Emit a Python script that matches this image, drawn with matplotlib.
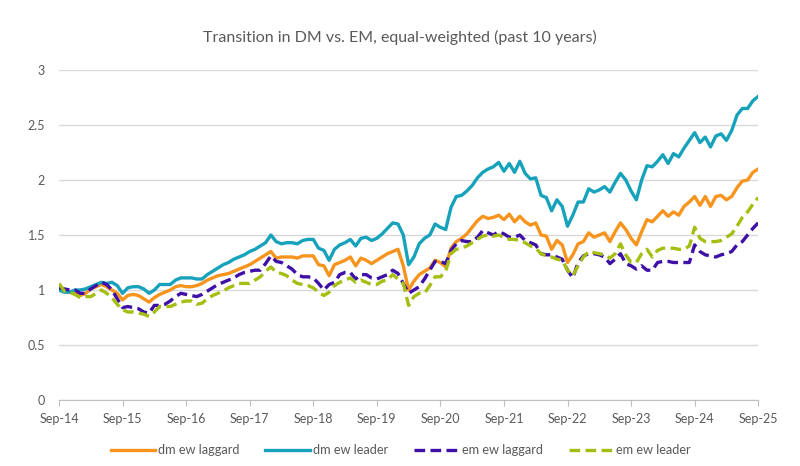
import matplotlib
matplotlib.use("Agg")
import matplotlib.pyplot as plt
from matplotlib.ticker import FormatStrFormatter

plt.rcParams["font.family"] = ["Lato", "DejaVu Sans"]

# Monthly index values, Sep-14 .. Sep-25 (133 months).
dm_ew_leader = [
    1.00, 0.98, 0.98, 1.00, 1.00, 1.01, 1.03, 1.05, 1.07, 1.06, 1.07, 1.04,
    0.97, 1.02, 1.03, 1.03, 1.01, 0.97, 1.00, 1.05, 1.05, 1.05, 1.09, 1.11,
    1.11, 1.11, 1.10, 1.10, 1.14, 1.17, 1.20, 1.23, 1.25, 1.28, 1.30, 1.32,
    1.35, 1.37, 1.40, 1.43, 1.50, 1.44, 1.42, 1.43, 1.43, 1.42, 1.45, 1.46,
    1.46, 1.38, 1.36, 1.27, 1.37, 1.41, 1.43, 1.46, 1.40, 1.47, 1.48, 1.45,
    1.47, 1.51, 1.56, 1.61, 1.60, 1.50, 1.23, 1.30, 1.42, 1.47, 1.50, 1.60,
    1.57, 1.55, 1.75, 1.85, 1.86, 1.90, 1.95, 2.02, 2.07, 2.10, 2.12, 2.16,
    2.08, 2.15, 2.07, 2.17, 2.06, 2.01, 2.02, 1.86, 1.84, 1.72, 1.82, 1.76,
    1.58, 1.68, 1.80, 1.80, 1.92, 1.89, 1.91, 1.94, 1.89, 1.98, 2.06, 2.00,
    1.90, 1.82, 2.00, 2.13, 2.12, 2.17, 2.23, 2.15, 2.24, 2.21, 2.29, 2.36,
    2.43, 2.34, 2.39, 2.30, 2.40, 2.42, 2.36, 2.45, 2.59, 2.65, 2.65, 2.72,
    2.76,
]
dm_ew_laggard = [
    1.00, 0.99, 0.98, 0.97, 0.95, 0.97, 1.01, 1.03, 1.05, 1.03, 1.00, 0.97,
    0.91, 0.95, 0.96, 0.95, 0.92, 0.89, 0.93, 0.96, 0.98, 1.00, 1.03, 1.04,
    1.03, 1.03, 1.04, 1.06, 1.09, 1.11, 1.13, 1.14, 1.15, 1.17, 1.19, 1.21,
    1.23, 1.26, 1.29, 1.32, 1.35, 1.29, 1.30, 1.30, 1.30, 1.29, 1.31, 1.31,
    1.31, 1.23, 1.22, 1.13, 1.23, 1.25, 1.27, 1.30, 1.22, 1.29, 1.27, 1.24,
    1.27, 1.30, 1.33, 1.35, 1.37, 1.22, 1.00, 1.08, 1.14, 1.17, 1.20, 1.27,
    1.25, 1.21, 1.38, 1.44, 1.47, 1.51, 1.57, 1.63, 1.67, 1.65, 1.66, 1.68,
    1.64, 1.69, 1.62, 1.67, 1.62, 1.59, 1.61, 1.50, 1.49, 1.37, 1.45, 1.41,
    1.25, 1.32, 1.42, 1.44, 1.52, 1.48, 1.50, 1.52, 1.44, 1.53, 1.61, 1.55,
    1.47, 1.41, 1.53, 1.64, 1.62, 1.67, 1.72, 1.67, 1.71, 1.68, 1.76, 1.80,
    1.85, 1.77, 1.85, 1.76, 1.85, 1.86, 1.82, 1.85, 1.93, 1.99, 2.00, 2.07,
    2.10,
]
em_ew_laggard = [
    1.02, 1.01, 1.00, 1.00, 0.97, 0.97, 1.01, 1.04, 1.07, 1.05, 1.00, 0.92,
    0.84, 0.85, 0.84, 0.83, 0.80, 0.79, 0.86, 0.86, 0.87, 0.90, 0.94, 0.97,
    0.96, 0.95, 0.94, 0.96, 0.99, 1.02, 1.05, 1.07, 1.09, 1.11, 1.14, 1.16,
    1.17, 1.18, 1.18, 1.24, 1.31, 1.26, 1.25, 1.22, 1.19, 1.14, 1.12, 1.12,
    1.11, 1.06, 1.00, 1.05, 1.07, 1.14, 1.16, 1.16, 1.10, 1.14, 1.14, 1.11,
    1.10, 1.12, 1.14, 1.18, 1.15, 1.06, 0.97, 1.00, 1.03, 1.10, 1.18, 1.26,
    1.26, 1.24, 1.36, 1.42, 1.45, 1.44, 1.44, 1.48, 1.54, 1.52, 1.50, 1.53,
    1.51, 1.48, 1.48, 1.50, 1.45, 1.43, 1.41, 1.33, 1.32, 1.32, 1.30, 1.28,
    1.18, 1.11, 1.25, 1.31, 1.33, 1.33, 1.32, 1.30, 1.24, 1.28, 1.33, 1.24,
    1.22, 1.19, 1.22, 1.18, 1.18, 1.25, 1.26, 1.26, 1.25, 1.25, 1.25, 1.25,
    1.41, 1.35, 1.32, 1.31, 1.30, 1.32, 1.33, 1.35, 1.41, 1.44, 1.50, 1.56,
    1.61,
]
em_ew_leader = [
    1.06, 0.99, 0.98, 0.96, 0.93, 0.94, 0.94, 0.97, 1.00, 0.97, 0.93, 0.87,
    0.82, 0.80, 0.80, 0.79, 0.78, 0.76, 0.80, 0.85, 0.85, 0.85, 0.87, 0.89,
    0.90, 0.90, 0.87, 0.88, 0.92, 0.95, 0.97, 0.99, 1.02, 1.04, 1.06, 1.06,
    1.06, 1.09, 1.12, 1.17, 1.21, 1.16, 1.15, 1.13, 1.09, 1.06, 1.05, 1.04,
    1.02, 0.98, 0.95, 0.98, 1.04, 1.07, 1.09, 1.11, 1.07, 1.09, 1.07, 1.05,
    1.05, 1.08, 1.09, 1.14, 1.10, 1.06, 0.86, 0.94, 0.97, 0.97, 1.04, 1.12,
    1.12, 1.17, 1.33, 1.37, 1.38, 1.40, 1.43, 1.46, 1.49, 1.50, 1.49, 1.50,
    1.48, 1.46, 1.46, 1.45, 1.43, 1.40, 1.38, 1.33, 1.31, 1.30, 1.28, 1.27,
    1.18, 1.13, 1.22, 1.30, 1.35, 1.34, 1.33, 1.32, 1.29, 1.33, 1.42, 1.32,
    1.25, 1.25, 1.33, 1.37, 1.30, 1.36, 1.38, 1.38, 1.38, 1.37, 1.37, 1.40,
    1.57, 1.47, 1.44, 1.44, 1.44, 1.45, 1.48, 1.51, 1.58, 1.66, 1.71, 1.78,
    1.84,
]
year_labels = ["Sep-14", "Sep-15", "Sep-16", "Sep-17", "Sep-18", "Sep-19",
               "Sep-20", "Sep-21", "Sep-22", "Sep-23", "Sep-24", "Sep-25"]

months = list(range(len(dm_ew_leader)))
text_grey = "#595959"

fig = plt.figure(figsize=(8, 4.66), dpi=100)
ax = fig.add_axes([0.07375, 0.1416, 0.874, 0.7082])

ax.plot(months, dm_ew_laggard, color="#F7941D", lw=2.4, label="dm ew laggard")
ax.plot(months, dm_ew_leader, color="#17A2BB", lw=2.4, label="dm ew leader")
ax.plot(months, em_ew_laggard, color="#3E10A8", lw=2.4,
        linestyle=(0, (3.2, 1.6)), label="em ew laggard")
ax.plot(months, em_ew_leader, color="#A6BE12", lw=2.4,
        linestyle=(0, (3.2, 1.6)), label="em ew leader")

ax.set_xlim(0, len(months) - 1)
ax.set_ylim(0, 3)
ax.set_yticks([0, 0.5, 1, 1.5, 2, 2.5, 3])
ax.yaxis.set_major_formatter(FormatStrFormatter("%g"))
ax.set_xticks(range(0, len(months), 12))
ax.set_xticklabels(year_labels)

ax.grid(axis="y", color="#D9D9D9", lw=1)
ax.set_axisbelow(True)
for side in ["top", "right", "left"]:
    ax.spines[side].set_visible(False)
ax.spines["bottom"].set_color("#BFBFBF")
ax.tick_params(axis="y", length=0, pad=10, labelsize=9, labelcolor=text_grey)
ax.tick_params(axis="x", length=4, color="#BFBFBF", pad=5, labelsize=9,
               labelcolor=text_grey)

fig.suptitle("Transition in DM vs. EM, equal-weighted (past 10 years)",
             y=0.935, fontsize=11.5, color=text_grey)

fig.legend(loc="center", bbox_to_anchor=(0.501, 0.034), ncol=4, frameon=False,
           fontsize=9.2, handlelength=3.5, handletextpad=0.25,
           columnspacing=2.0, labelcolor=text_grey)

fig.savefig("out.png", dpi=100)
